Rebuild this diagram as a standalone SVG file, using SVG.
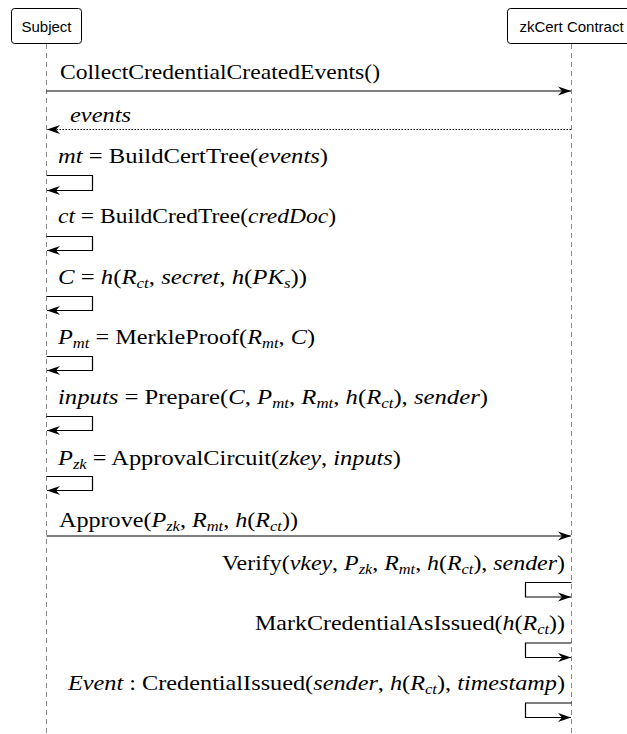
<svg xmlns="http://www.w3.org/2000/svg" width="627" height="734" viewBox="0 0 627 734">
<style>
.actor rect{fill:#fff;stroke:#000;stroke-width:1}
.actor text{font-family:"Liberation Sans",Arial,sans-serif;font-size:15px;fill:#000;text-anchor:middle}
.life{stroke:#888;stroke-width:1;stroke-dasharray:5 4;fill:none}
.msg{stroke:#000;stroke-width:1.2;fill:none}
.dot{stroke-dasharray:1.5 1.5}
text.lbl{font-size:22px;fill:#000}
.i{font-style:italic}
.s{font-size:15px}
</style>
<defs>
<marker id="ah" markerWidth="14" markerHeight="10" refX="13" refY="5" orient="auto" markerUnits="userSpaceOnUse">
<path d="M0,0.5 L13,5 L0,9.5 L4,5 z" fill="#000"/>
</marker>
</defs>
<g id="lifelines">
<line class="life" x1="46.5" y1="44" x2="46.5" y2="734"/>
<line class="life" x1="571.5" y1="44" x2="571.5" y2="734"/>
</g>
<g id="subject" class="actor">
<rect x="11.5" y="8.5" width="70" height="35" rx="3"/>
<text x="46.5" y="31.5">Subject</text>
</g>
<g id="zkcert" class="actor">
<rect x="507.5" y="8.5" width="128" height="35" rx="3"/>
<text x="571.5" y="31.5">zkCert Contract</text>
</g>
<g id="connectors">
<line class="msg" x1="46.5" y1="91" x2="571" y2="91" marker-end="url(#ah)"/>
<line class="msg dot" x1="571" y1="129.5" x2="47" y2="129.5" marker-end="url(#ah)"/>
<path class="msg" d="M46.5,175.5 H92.5 V190.5 H47" marker-end="url(#ah)"/>
<path class="msg" d="M46.5,236.5 H92.5 V250.5 H47" marker-end="url(#ah)"/>
<path class="msg" d="M46.5,296.5 H92.5 V310.5 H47" marker-end="url(#ah)"/>
<path class="msg" d="M46.5,356.5 H92.5 V370.5 H47" marker-end="url(#ah)"/>
<path class="msg" d="M46.5,416.5 H92.5 V430.5 H47" marker-end="url(#ah)"/>
<path class="msg" d="M46.5,476.5 H92.5 V490.5 H47" marker-end="url(#ah)"/>
<line class="msg" x1="46.5" y1="536" x2="571" y2="536" marker-end="url(#ah)"/>
<path class="msg" d="M571.5,582.5 H525.5 V597 H571" marker-end="url(#ah)"/>
<path class="msg" d="M571.5,643 H525.5 V657.5 H571" marker-end="url(#ah)"/>
<path class="msg" d="M571.5,703 H525.5 V717.5 H571" marker-end="url(#ah)"/>
</g>
<g id="labels" font-family="Liberation Serif, Times New Roman, serif">
<text class="lbl" x="60" y="79" textLength="320" lengthAdjust="spacingAndGlyphs">CollectCredentialCreatedEvents()</text>
<text class="lbl i" x="70" y="122" textLength="61" lengthAdjust="spacingAndGlyphs">events</text>
<text class="lbl" x="58" y="163" textLength="270" lengthAdjust="spacingAndGlyphs"><tspan class="i">mt</tspan> = BuildCertTree(<tspan class="i">events</tspan>)</text>
<text class="lbl" x="58" y="223" textLength="278" lengthAdjust="spacingAndGlyphs"><tspan class="i">ct</tspan> = BuildCredTree(<tspan class="i">credDoc</tspan>)</text>
<text class="lbl" x="58" y="284" textLength="249" lengthAdjust="spacingAndGlyphs"><tspan class="i">C</tspan> = <tspan class="i">h</tspan>(<tspan class="i">R</tspan><tspan class="i s" dy="4">ct</tspan><tspan dy="-4">, </tspan><tspan class="i">secret</tspan>, <tspan class="i">h</tspan>(<tspan class="i">PK</tspan><tspan class="i s" dy="4">s</tspan><tspan dy="-4">))</tspan></text>
<text class="lbl" x="58" y="344" textLength="257" lengthAdjust="spacingAndGlyphs"><tspan class="i">P</tspan><tspan class="i s" dy="4">mt</tspan><tspan dy="-4"> = MerkleProof(</tspan><tspan class="i">R</tspan><tspan class="i s" dy="4">mt</tspan><tspan dy="-4">, </tspan><tspan class="i">C</tspan>)</text>
<text class="lbl" x="58" y="404" textLength="430" lengthAdjust="spacingAndGlyphs"><tspan class="i">inputs</tspan> = Prepare(<tspan class="i">C</tspan>, <tspan class="i">P</tspan><tspan class="i s" dy="4">mt</tspan><tspan dy="-4">, </tspan><tspan class="i">R</tspan><tspan class="i s" dy="4">mt</tspan><tspan dy="-4">, </tspan><tspan class="i">h</tspan>(<tspan class="i">R</tspan><tspan class="i s" dy="4">ct</tspan><tspan dy="-4">), </tspan><tspan class="i">sender</tspan>)</text>
<text class="lbl" x="58" y="465" textLength="343" lengthAdjust="spacingAndGlyphs"><tspan class="i">P</tspan><tspan class="i s" dy="4">zk</tspan><tspan dy="-4"> = ApprovalCircuit(</tspan><tspan class="i">zkey</tspan>, <tspan class="i">inputs</tspan>)</text>
<text class="lbl" x="59" y="527" textLength="239" lengthAdjust="spacingAndGlyphs">Approve(<tspan class="i">P</tspan><tspan class="i s" dy="4">zk</tspan><tspan dy="-4">, </tspan><tspan class="i">R</tspan><tspan class="i s" dy="4">mt</tspan><tspan dy="-4">, </tspan><tspan class="i">h</tspan>(<tspan class="i">R</tspan><tspan class="i s" dy="4">ct</tspan><tspan dy="-4">))</tspan></text>
<text class="lbl" x="222" y="570" textLength="343" lengthAdjust="spacingAndGlyphs">Verify(<tspan class="i">vkey</tspan>, <tspan class="i">P</tspan><tspan class="i s" dy="4">zk</tspan><tspan dy="-4">, </tspan><tspan class="i">R</tspan><tspan class="i s" dy="4">mt</tspan><tspan dy="-4">, </tspan><tspan class="i">h</tspan>(<tspan class="i">R</tspan><tspan class="i s" dy="4">ct</tspan><tspan dy="-4">), </tspan><tspan class="i">sender</tspan>)</text>
<text class="lbl" x="255" y="630" textLength="310" lengthAdjust="spacingAndGlyphs">MarkCredentialAsIssued(<tspan class="i">h</tspan>(<tspan class="i">R</tspan><tspan class="i s" dy="4">ct</tspan><tspan dy="-4">))</tspan></text>
<text class="lbl" x="68" y="690" textLength="497" lengthAdjust="spacingAndGlyphs"><tspan class="i">Event</tspan> : CredentialIssued(<tspan class="i">sender</tspan>, <tspan class="i">h</tspan>(<tspan class="i">R</tspan><tspan class="i s" dy="4">ct</tspan><tspan dy="-4">), </tspan><tspan class="i">timestamp</tspan>)</text>
</g>
</svg>
